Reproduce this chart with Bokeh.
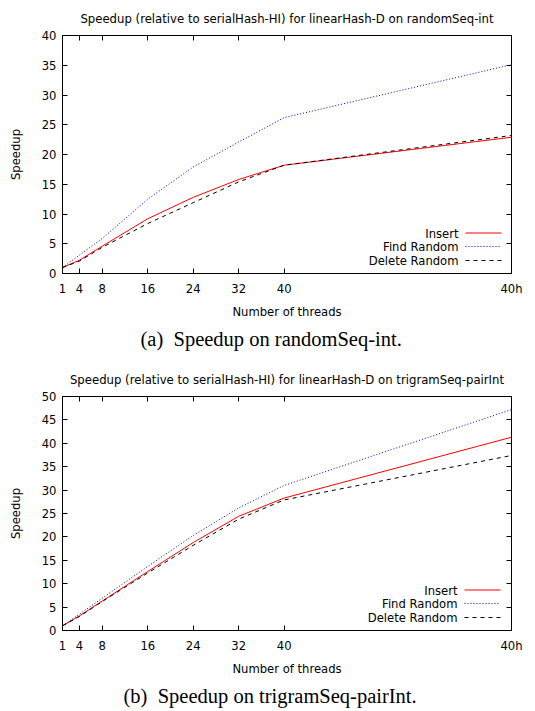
from bokeh.plotting import figure
from bokeh.models import Range1d, FixedTicker, LinearAxis, Title, Label, Arrow
from bokeh.layouts import column
from bokeh.embed import file_html
from bokeh.resources import INLINE

# ---------------- data ----------------
threads = [1, 4, 8, 16, 24, 32, 40, 80]
xtick_values = [1, 4, 8, 16, 24, 32, 40, 80]
xtick_labels = ["1", "4", "8", "16", "24", "32", "40", "40h"]
series_names = ["Insert", "Find Random", "Delete Random"]

# (a) randomSeq-int
insert_a = [1.0, 2.25, 4.6, 9.2, 12.8, 15.8, 18.2, 22.9]
find_a = [1.0, 3.1, 5.9, 12.5, 17.9, 22.1, 26.2, 35.1]
delete_a = [1.0, 2.1, 4.4, 8.4, 11.9, 15.4, 18.2, 23.2]

# (b) trigramSeq-pairInt
insert_b = [1.0, 3.15, 6.3, 12.6, 18.8, 24.4, 28.3, 41.3]
find_b = [1.0, 3.5, 6.9, 13.7, 20.3, 26.2, 31.0, 47.2]
delete_b = [1.0, 3.0, 6.2, 12.3, 18.2, 23.8, 27.9, 37.4]

title_a = "Speedup (relative to serialHash-HI) for linearHash-D on randomSeq-int"
title_b = "Speedup (relative to serialHash-HI) for linearHash-D on trigramSeq-pairInt"
caption_a = "(a)\u00a0\u00a0Speedup on randomSeq-int."
caption_b = "(b)\u00a0\u00a0Speedup on trigramSeq-pairInt."

FONT = "DejaVu Sans"
FS = "11.6px"
styles = [
    dict(color="red", dash="solid"),
    dict(color="blue", dash="1 2"),
    dict(color="black", dash="4 4"),
]


def make_fig(series, ymax, title, caption, w, h, bl, br, bt, bb,
             cap_offset, cap_standoff):
    p = figure(width=w, height=h,
               x_range=Range1d(1, 80), y_range=Range1d(0, ymax),
               output_backend="svg", toolbar_location=None,
               min_border_left=bl, min_border_right=br,
               min_border_top=bt, min_border_bottom=bb)
    fw = w - bl - br
    p.title.text = title
    p.title.align = "center"
    p.title.text_font = FONT
    p.title.text_font_size = "11.7px"
    p.title.text_font_style = "normal"
    p.title.text_color = "#000000"
    p.title.standoff = 19
    p.grid.visible = False
    p.outline_line_color = "#000000"
    p.outline_line_alpha = 1.0
    p.outline_line_width = 1
    p.background_fill_color = "white"
    p.border_fill_color = "white"

    yticks = list(range(0, ymax + 1, 5))
    for ax in (p.xaxis[0], p.yaxis[0]):
        ax.major_tick_in = 5
        ax.major_tick_out = 0
        ax.minor_tick_line_color = None
        ax.major_label_text_font = FONT
        ax.major_label_text_font_size = FS
        ax.major_label_text_color = "#000000"
        ax.axis_label_text_font = FONT
        ax.axis_label_text_font_size = FS
        ax.axis_label_text_font_style = "normal"
        ax.axis_label_text_color = "#000000"
        ax.axis_line_color = "#000000"
        ax.major_tick_line_color = "#000000"
    p.xaxis.ticker = FixedTicker(ticks=xtick_values)
    p.xaxis.major_label_overrides = {v: l for v, l in zip(xtick_values, xtick_labels)}
    p.xaxis.axis_label = "Number of threads"
    p.xaxis.major_label_standoff = 8
    p.xaxis.axis_label_standoff = 6
    p.yaxis.ticker = FixedTicker(ticks=yticks)
    p.yaxis.axis_label = "Speedup"
    p.yaxis.major_label_standoff = 6
    p.yaxis.axis_label_standoff = 16

    # mirrored ticks on top / right (no labels)
    for side, ticks in (("above", xtick_values), ("right", yticks)):
        ax = LinearAxis(ticker=FixedTicker(ticks=ticks),
                        major_label_overrides={t: "" for t in ticks},
                        major_label_standoff=0,
                        axis_line_color=None, major_tick_in=5, major_tick_out=0,
                        minor_tick_line_color=None,
                        major_tick_line_color="#000000")
        p.add_layout(ax, side)

    for name, ys, st in zip(series_names, series, styles):
        p.line(threads, ys, line_color=st["color"], line_dash=st["dash"],
               line_width=1)

    # gnuplot-style key, bottom right, text right-aligned, sample on the right
    rows = [40, 26.5, 12.5]
    for name, st, ry in zip(series_names, styles, rows):
        p.add_layout(Arrow(x_start=fw - 49, y_start=ry + 0.5, x_end=fw - 13,
                           y_end=ry + 0.5,
                           start_units="screen", end_units="screen",
                           start=None, end=None, line_color=st["color"],
                           line_alpha=1.0,
                           line_dash=st["dash"], line_width=1))
        p.add_layout(Label(x=fw - 56, y=ry, x_units="screen", y_units="screen",
                           text=name, text_align="right", text_baseline="middle",
                           text_font=FONT, text_font_size=FS,
                           text_color="#000000"))

    cap = Title(text=caption, align="left", offset=cap_offset,
                text_font="Liberation Serif", text_font_size="20.5px",
                text_font_style="normal", text_color="#000000",
                standoff=cap_standoff)
    p.add_layout(cap, "below")
    return p


p1 = make_fig([insert_a, find_a, delete_a], 40, title_a, caption_a,
              535, 354, 59, 24, 35, 81, 78, 8)
p2 = make_fig([insert_b, find_b, delete_b], 50, title_b, caption_b,
              535, 356, 62, 22, 42, 77, 61, 8)

layout = column(p1, p2, spacing=0)
open("out.html", "w").write(file_html(layout, INLINE))
